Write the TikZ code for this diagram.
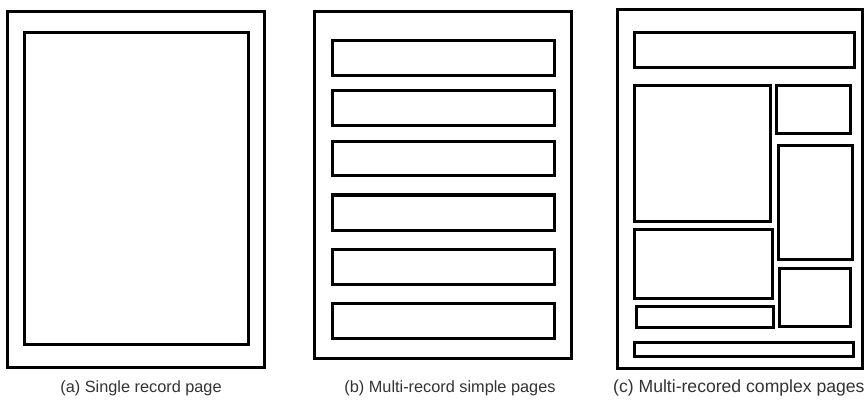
\documentclass[tikz,border=0pt]{standalone}
\usepackage{fontspec}
\setmainfont{Liberation Sans}
\begin{document}
\begin{tikzpicture}[x=1pt,y=-1pt,
  page/.style={draw=black,line width=3pt},
  rec/.style={draw=black,line width=3pt},
  captext/.style={text=black!80,inner sep=0pt}]
\useasboundingbox (0,0) rectangle (864,414);
\fill[white] (0,0) rectangle (864,414);
% (a)
\draw[page] (7.5,12) rectangle (264,367);
\draw[rec] (24,33) rectangle (248,344);
\node[captext,anchor=base,font=\fontsize{16.3}{19}\selectfont] (capa) at (141,392) {(a) Single record page};
% (b)
\draw[page] (314,12) rectangle (571,358);
\foreach \ya/\yb in {41/76,91/126,142/176,195/230,249/284,303/338}
  \draw[rec] (332,\ya) rectangle (554,\yb);
\node[captext,anchor=base,font=\fontsize{16.3}{19}\selectfont] (capb) at (450,392) {(b) Multi-record simple pages};
% (c)
\draw[page] (617,10) rectangle (862,368);
\draw[rec] (634,33) rectangle (854,68);
\draw[rec] (634,86) rectangle (770,221);
\draw[rec] (776,86) rectangle (850,134);
\draw[rec] (778,146) rectangle (852,259);
\draw[rec] (634,229) rectangle (772,298);
\draw[rec] (779,268) rectangle (850,326);
\draw[rec] (636,306) rectangle (773,327);
\draw[rec] (634,342) rectangle (853,356);
\node[captext,anchor=base west,font=\fontsize{17.6}{20}\selectfont] (capc) at (613,392) {(c) Multi-recored complex pages};
\end{tikzpicture}
\end{document}
